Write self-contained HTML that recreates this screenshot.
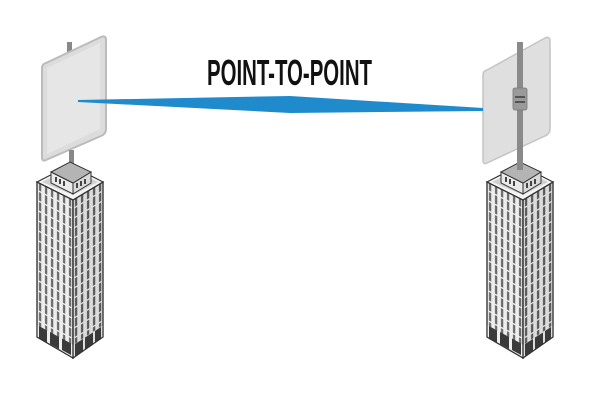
<!DOCTYPE html>
<html><head><style>html,body{margin:0;padding:0;background:#fff;width:600px;height:400px;overflow:hidden}</style></head>
<body>
<svg width="600" height="400" viewBox="0 0 600 400" xmlns="http://www.w3.org/2000/svg">
<defs>
<pattern id="wl" x="0" y="0" width="6" height="10" patternUnits="userSpaceOnUse" patternTransform="skewY(27)">
<rect width="6" height="10" fill="#eeeeee"/><rect x="2" y="1" width="2.2" height="8.5" fill="#666"/>
</pattern>
<pattern id="wr" x="0" y="0" width="6" height="10" patternUnits="userSpaceOnUse" patternTransform="skewY(-31)">
<rect width="6" height="10" fill="#dcdcdc"/><rect x="2" y="1" width="2.2" height="8.5" fill="#555"/>
</pattern>
<g id="bld">
<polygon points="0,32 36,50 36,208 0,187" fill="url(#wl)" stroke="#333" stroke-width="1.2"/>
<polygon points="36,50 66,32 66,187 36,208" fill="url(#wr)" stroke="#333" stroke-width="1.2"/>
<polygon points="0,32 33,15 66,32 36,50" fill="#f4f4f4" stroke="#333" stroke-width="1.2"/>
<polygon points="5,32 33,18 61,32 36,45" fill="#d0d0d0"/>
<polygon points="0,175 36,195 36,208 0,187" fill="#eee"/>
<polygon points="36,195 66,175 66,187 36,208" fill="#ddd"/>
<g fill="#3a3a3a">
<polygon points="2,176 10,180.5 10,193 2,188.5"/><polygon points="13,182 22,187 22,199 13,194"/><polygon points="25,188.5 34,193.5 34,205 25,200"/>
<polygon points="38,194 46,189 46,201 38,206"/><polygon points="48,187.5 56,182.5 56,194.5 48,199.5"/><polygon points="58,181 64,177 64,189 58,193"/>
</g>
<polygon points="0,32 36,50 36,208 0,187" fill="none" stroke="#333" stroke-width="1.2"/>
<polygon points="36,50 66,32 66,187 36,208" fill="none" stroke="#333" stroke-width="1.2"/>
<polygon points="14,22 36,33 36,44 14,33" fill="#eaeaea" stroke="#333" stroke-width="1"/>
<polygon points="36,33 54,22 54,33 36,44" fill="#dadada" stroke="#333" stroke-width="1"/>
<polygon points="14,22 33,12 54,22 36,33" fill="#b4b4b4" stroke="#333" stroke-width="1"/>
<g fill="#444"><rect x="18" y="27" width="2" height="5"/><rect x="22" y="29" width="2" height="5"/><rect x="26" y="31" width="2" height="5"/><rect x="39" y="33" width="2" height="5"/><rect x="43" y="31" width="2" height="5"/><rect x="47" y="29" width="2" height="5"/></g>
</g>
</defs>
<rect width="600" height="400" fill="#fff"/>
<rect x="67" y="42" width="5" height="20" fill="#888"/>
<path d="M46,63 L101,37 Q106,35 106,40 L106,129 Q106,134 101,136 L46,160 Q42,162 42,157 L42,68 Q42,64 46,63Z" fill="#dcdcdc" stroke="#bbb" stroke-width="2"/>
<path d="M47,68 L100,43 L100,129 L47,154Z" fill="#e6e6e6"/>
<rect x="69" y="150" width="5" height="20" fill="#888"/>
<use href="#bld" x="37" y="150"/>
<path d="M487,70 L545,38 Q550,36 550,41 L550,129 Q550,134 545,136 L487,163 Q483,165 483,160 L483,75 Q483,71 487,70Z" fill="#dfdfdf" stroke="#c4c4c4" stroke-width="1.5"/>
<use href="#bld" x="487" y="150"/>
<rect x="517" y="42" width="6" height="128" fill="#8a8a8a"/>
<rect x="513" y="88" width="14" height="22" rx="2" fill="#9a9a9a" stroke="#777" stroke-width="0.8"/>
<rect x="515" y="96" width="10" height="2" fill="#555"/><rect x="515" y="101" width="10" height="2" fill="#555"/>
<polygon points="78,100 290,96 483,108 483,111 290,113 78,102" fill="#1f8bcc"/>
<text x="207" y="85" font-family="'Liberation Sans Narrow','Liberation Sans',sans-serif" font-weight="bold" font-size="36" textLength="165" lengthAdjust="spacingAndGlyphs" fill="#111">POINT-TO-POINT</text>
</svg>
</body></html>
